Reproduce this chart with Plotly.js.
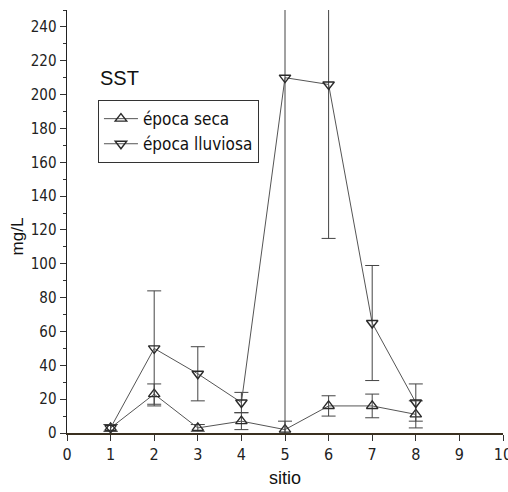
<!DOCTYPE html>
<html>
<head>
<meta charset="utf-8">
<script src="https://cdn.plot.ly/plotly-3.0.1.min.js"></script>
<style>html,body{margin:0;padding:0;background:#fff;}#chart{width:508px;height:492px;}</style>
</head>
<body>
<div id="chart"></div>
<script>
const sitios = [1, 2, 3, 4, 5, 6, 7, 8];
const secaValues = [3, 23, 3, 7, 2, 16, 16, 11];
const secaErrors = [2, 6, 2, 5, 5, 6, 7, 8];
const lluviosaValues = [3, 50, 35, 18, 210, 206, 65, 18];
const lluviosaErrors = [2, 34, 16, 6, 215, 91, 34, 11];
const xTicks = [0, 1, 2, 3, 4, 5, 6, 7, 8, 9, 10];
const yTicks = [0, 20, 40, 60, 80, 100, 120, 140, 160, 180, 200, 220, 240];

const narrow = "DejaVu Sans Condensed, Liberation Sans Narrow, sans-serif";
const ink = "#2a2a2a";

const traces = [
  {
    x: sitios, y: secaValues, name: "época seca",
    mode: "lines+markers", type: "scatter",
    line: {color: "#555", width: 1},
    marker: {symbol: "triangle-up-open", size: 10, color: ink, line: {width: 1.4, color: ink}},
    error_y: {type: "data", array: secaErrors, visible: true, color: "#444", thickness: 1, width: 7}
  },
  {
    x: sitios, y: lluviosaValues, name: "época lluviosa",
    mode: "lines+markers", type: "scatter",
    line: {color: "#555", width: 1},
    marker: {symbol: "triangle-down-open", size: 10, color: ink, line: {width: 1.4, color: ink}},
    error_y: {type: "data", array: lluviosaErrors, visible: true, color: "#444", thickness: 1, width: 7}
  }
];

const layout = {
  width: 508, height: 492,
  margin: {l: 67, r: 5, t: 10, b: 59},
  paper_bgcolor: "#fff", plot_bgcolor: "#fff",
  showlegend: true,
  legend: {
    x: 0.071, y: 0.787, xanchor: "left", yanchor: "top",
    bordercolor: "#333", borderwidth: 1, bgcolor: "rgba(255,255,255,0)",
    font: {family: narrow, size: 17, color: "#111"},
    itemwidth: 34, tracegroupgap: 0
  },
  xaxis: {
    range: [0, 10], tickvals: xTicks, ticktext: xTicks.map(String),
    showgrid: false, zeroline: false, showline: true, linecolor: "#3a3020", linewidth: 2,
    ticks: "outside", ticklen: 6, tickcolor: "#333", tickwidth: 1,
    ticklabeloverflow: "allow",
    tickfont: {family: narrow, size: 16, color: "#222"},
    title: {text: "sitio", font: {family: "Liberation Sans, Arial, sans-serif", size: 18, color: "#111"}, standoff: 8}
  },
  yaxis: {
    range: [0, 250], tickvals: yTicks, ticktext: yTicks.map(String),
    showgrid: false, zeroline: false, showline: true, linecolor: "#222", linewidth: 1.5,
    ticks: "outside", ticklen: 6, tickcolor: "#333", tickwidth: 1,
    tickfont: {family: narrow, size: 15, color: "#222"},
    minor: {dtick: 10, ticks: "outside", ticklen: 3, tickcolor: "#333"}
  },
  annotations: [
    {text: "SST", xref: "paper", yref: "paper", x: 0.072, y: 0.84, xanchor: "left", yanchor: "middle",
     showarrow: false, font: {family: "Liberation Sans, Arial, sans-serif", size: 20, color: "#111"}},
    {text: "mg/L", xref: "paper", yref: "y", x: -0.113, y: 116, xanchor: "center", yanchor: "middle", textangle: -90,
     showarrow: false, font: {family: "Liberation Sans, Arial, sans-serif", size: 17, color: "#111"}}
  ]
};

Plotly.newPlot("chart", traces, layout, {displayModeBar: false, staticPlot: true});
</script>
</body>
</html>
